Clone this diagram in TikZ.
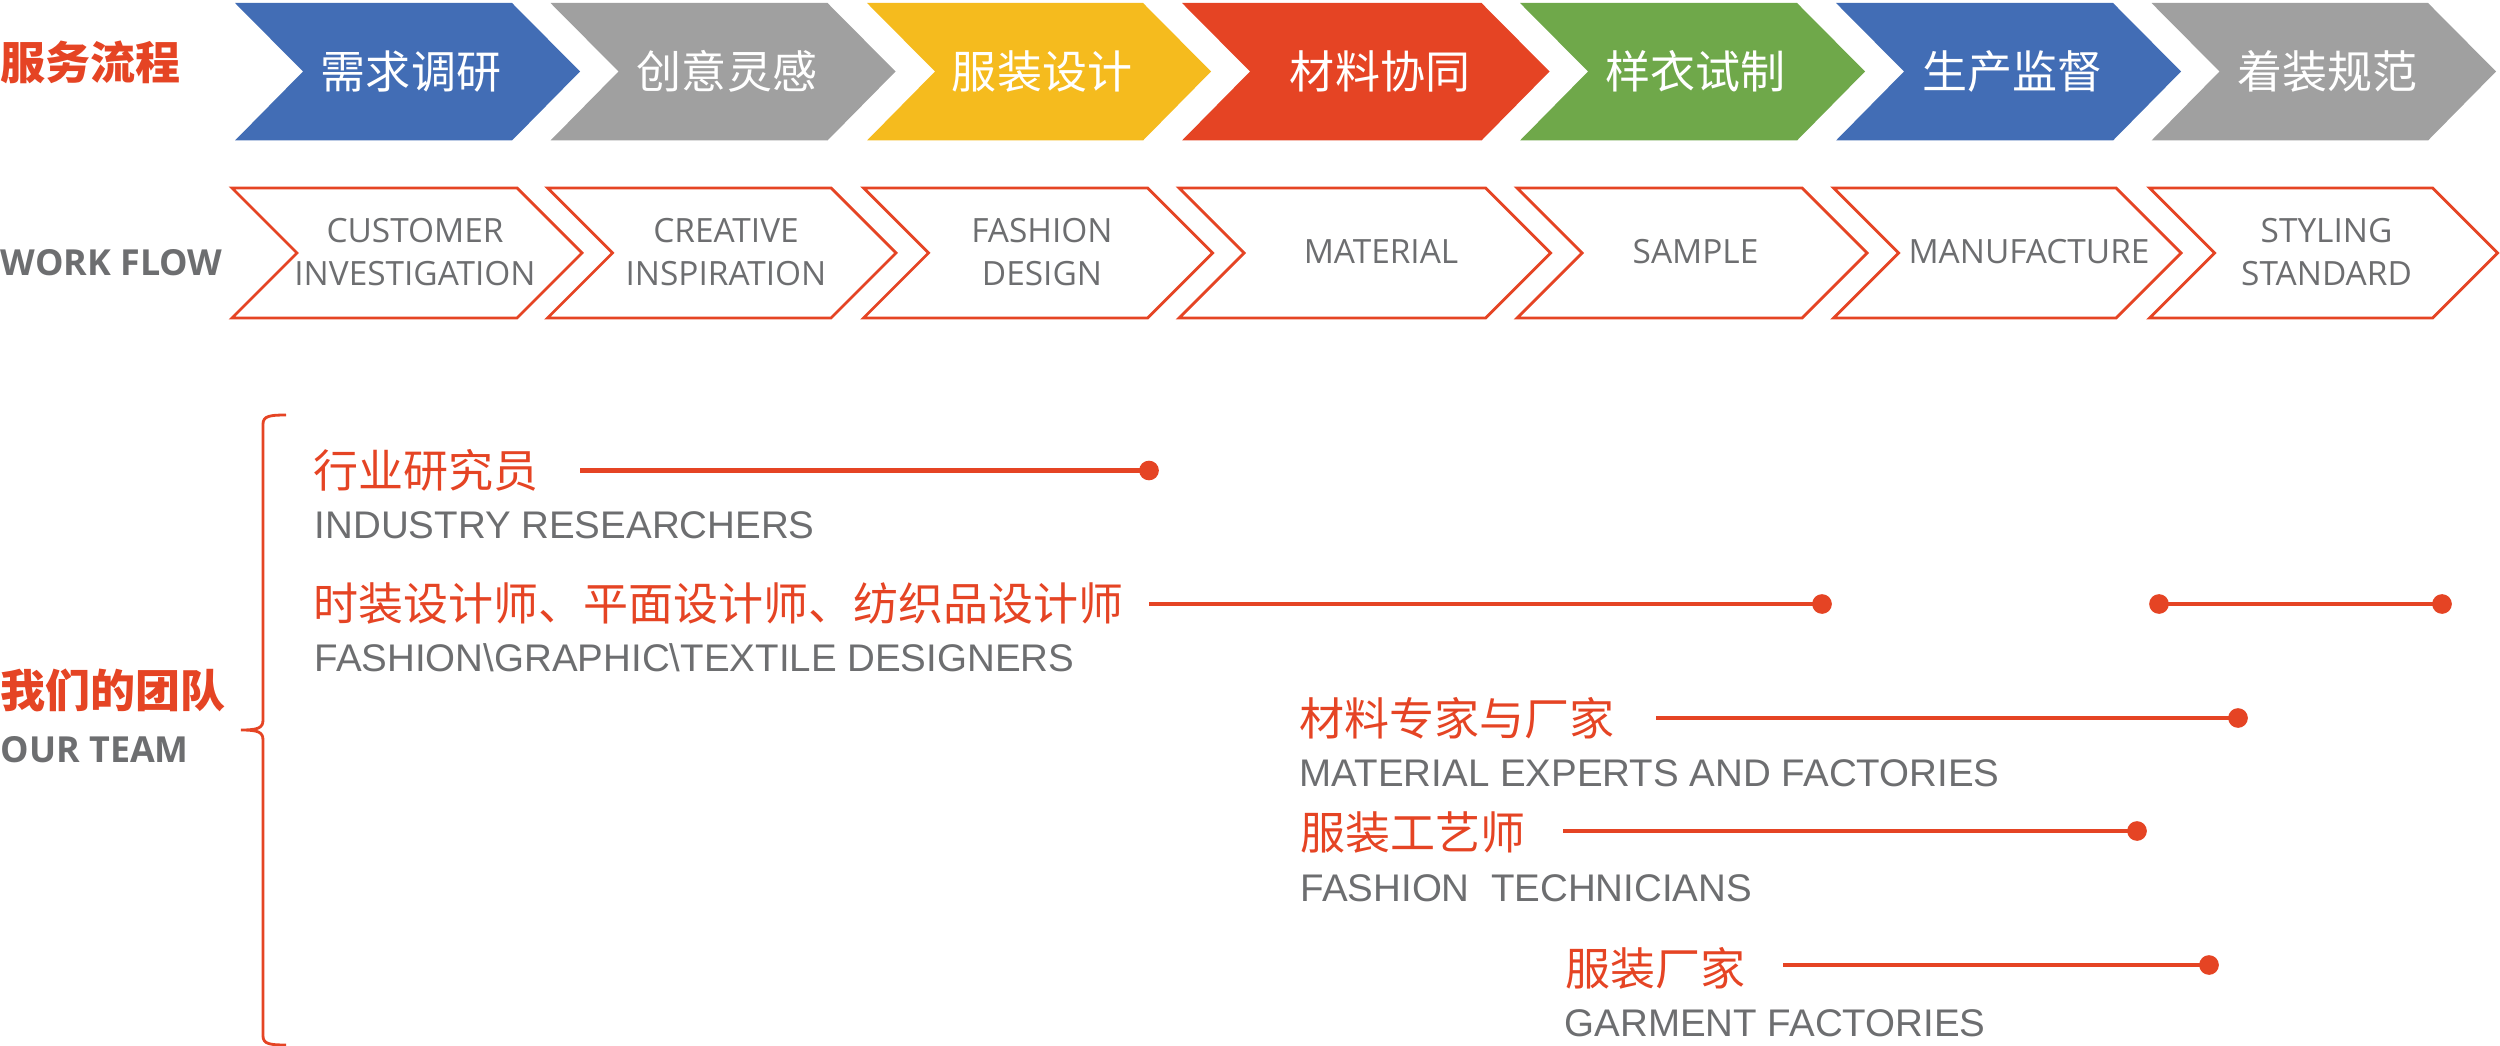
\documentclass[tikz,border=0pt]{standalone}
\usepackage{fontspec}
\setmainfont{Liberation Sans}
\newfontfamily\cjk{Noto Sans CJK SC}
\newfontfamily\opensans{Open Sans}
\definecolor{flowred}{HTML}{E54424}
\definecolor{flowblue}{HTML}{426DB5}
\definecolor{flowgray}{HTML}{A0A0A0}
\definecolor{flowyellow}{HTML}{F5BB1E}
\definecolor{flowgreen}{HTML}{6FA84A}
\definecolor{txtgray}{HTML}{6D6E70}
\tikzset{
	px/.style={x=.01cm,y=-.01cm},
	solidarrow/.style={text=white,font=\cjk\fontsize{12.8}{12.8}\selectfont,inner sep=0pt},
	linearrow/.style={text=txtgray,font=\opensans\fontsize{9.5}{12}\selectfont,align=center,inner sep=0pt},
	headcn/.style={text=flowred,font=\cjk\bfseries\fontsize{12.8}{12.8}\selectfont,anchor=west,inner sep=0pt},
	headen/.style={text=txtgray,font=\opensans\bfseries\fontsize{10.2}{12}\selectfont,anchor=west,inner sep=0pt},
	rolecn/.style={text=flowred,font=\cjk\fontsize{12.8}{12.8}\selectfont,anchor=west,inner sep=0pt},
	roleen/.style={text=txtgray,font=\fontsize{10.95}{12}\selectfont,anchor=west,inner sep=0pt},
	roleline/.style={flowred,line width=1.15pt},
	roledot/.style={circle,fill=flowred,minimum size=5.6pt,inner sep=0pt,outer sep=-1pt},
}
\begin{document}
\begin{tikzpicture}[px,line join=miter]
	\useasboundingbox (0,0) rectangle (2500,1046);
	% top row
	\foreach \l/\r/\cx/\col/\name/\txt in {235/580/411/flowblue/a/需求调研,550.5/895.5/727/flowgray/b/创意灵感,867/1211/1042/flowyellow/c/服装设计,1182/1549.5/1380/flowred/d/材料协同,1520/1865/1695.5/flowgreen/e/样衣试制,1836/2181/2012/flowblue/f/生产监督,2151.5/2496/2327.5/flowgray/g/着装规范}{
		\fill[\col] (\l,3)--(\r-68,3)--(\r,71.5)--(\r-68,140.5)--(\l,140.5)--(\l+68,71.5)--cycle;
		\node[solidarrow] (top\name) at (\cx,71.5) {\txt};
	}
	% second row
	\foreach \l/\r/\cx/\name/\txt in {232/582/415/a/{CUSTOMER\\INVESTIGATION},547.5/896/726/b/{CREATIVE\\INSPIRATION},863.5/1212.5/1042/c/{FASHION\\DESIGN},1179/1550.5/1381/d/{MATERIAL},1517/1867/1695.5/e/{SAMPLE},1833.5/2181/2029/f/{MANUFACTURE},2149.5/2497.5/2326.5/g/{STYLING\\STANDARD}}{
		\draw[flowred,line width=.8pt] (\l,188)--(\r-65,188)--(\r,253)--(\r-65,318)--(\l,318)--(\l+65,253)--cycle;
		\node[linearrow] (low\name) at (\cx,252) {\txt};
	}
	\node[headcn] (flowcn) at (0,62) {服务流程};
	\node[headen] (flowen) at (0,263) {WORK FLOW};
	\node[headcn] (teamcn) at (0,690) {我们的团队};
	\node[headen] (teamen) at (0,750) {OUR TEAM};
	% brace
	\draw[flowred,line width=.8pt] (286,415) .. controls (270,415) and (263,416) .. (263,424)--(263,720) .. controls (263,728) and (258,730) .. (241,730) .. controls (258,730) and (263,732) .. (263,740)--(263,1036) .. controls (263,1044) and (270,1045) .. (286,1045);
	% roles
	\node[rolecn] (r1) at (313,470) {行业研究员};
	\node[roleen] (e1) at (314,525) {INDUSTRY RESEARCHERS};
	\node[rolecn] (r2) at (313,604) {时装设计师、平面设计师、纺织品设计师};
	\node[roleen] (e2) at (314,658) {FASHION\textbackslash GRAPHIC\textbackslash TEXTILE DESIGNERS};
	\node[rolecn] (r3) at (1299,718) {材料专家与厂家};
	\node[roleen] (e3) at (1299,773) {MATERIAL EXPERTS AND FACTORIES};
	\node[rolecn] (r4) at (1300,833) {服装工艺师};
	\node[roleen] (e4) at (1300,888) {FASHION\ \ TECHNICIANS};
	\node[rolecn] (r5) at (1565,968) {服装厂家};
	\node[roleen] (e5) at (1564,1023) {GARMENT FACTORIES};
	\node[roledot] (d1) at (1149,470.5) {};
	\node[roledot] (d2) at (1822,604) {};
	\node[roledot] (d3a) at (2159,604) {};
	\node[roledot] (d3b) at (2442,604) {};
	\node[roledot] (d4) at (2238,718) {};
	\node[roledot] (d5) at (2137,831) {};
	\node[roledot] (d6) at (2209,965) {};
	\coordinate (s1) at (580,470.5);
	\coordinate (s2) at (1149,604);
	\coordinate (s4) at (1656,718);
	\coordinate (s5) at (1563,831);
	\coordinate (s6) at (1783,965);
	\draw[roleline] (s1)--(d1);
	\draw[roleline] (s2)--(d2);
	\draw[roleline] (d3a)--(d3b);
	\draw[roleline] (s4)--(d4);
	\draw[roleline] (s5)--(d5);
	\draw[roleline] (s6)--(d6);
\end{tikzpicture}
\end{document}
